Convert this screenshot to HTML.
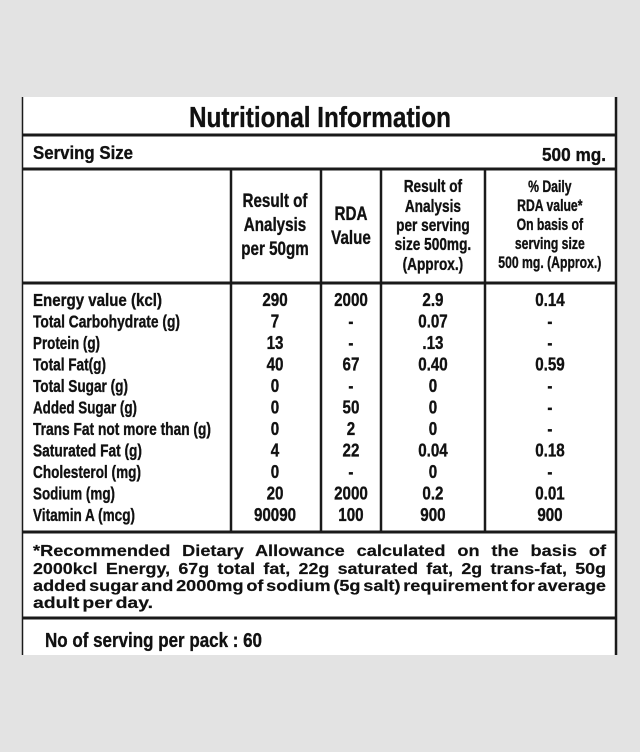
<!DOCTYPE html>
<html><head><meta charset="utf-8"><style>
html,body{margin:0;padding:0;background:#e3e3e3;}
svg{display:block;font-family:"Liberation Sans",Arial,sans-serif;font-weight:bold;fill:#111;}
</style></head><body>
<svg width="640" height="752" viewBox="0 0 640 752" xmlns="http://www.w3.org/2000/svg">
<rect x="0" y="0" width="640" height="752" fill="#e3e3e3"/>
<rect x="22" y="97" width="595" height="558" fill="#fff"/>
<g stroke="#1a1a1a" fill="none">
<line x1="22.5" y1="97" x2="22.5" y2="655" stroke-width="1.5"/>
<line x1="616" y1="97" x2="616" y2="655" stroke-width="2.5"/>
<line x1="22" y1="135" x2="617" y2="135" stroke-width="3"/>
<line x1="22" y1="169" x2="617" y2="169" stroke-width="3"/>
<line x1="22" y1="283" x2="617" y2="283" stroke-width="3"/>
<line x1="22" y1="532" x2="617" y2="532" stroke-width="3"/>
<line x1="22" y1="618" x2="617" y2="618" stroke-width="3"/>
<line x1="231" y1="169" x2="231" y2="532" stroke-width="2.5"/>
<line x1="321" y1="169" x2="321" y2="532" stroke-width="2.5"/>
<line x1="381" y1="169" x2="381" y2="532" stroke-width="2.5"/>
<line x1="485" y1="169" x2="485" y2="532" stroke-width="2.5"/>
</g>
<g stroke="#111" stroke-width="0.35">
<text x="320" y="127" font-size="29" text-anchor="middle" textLength="262" lengthAdjust="spacingAndGlyphs">Nutritional Information</text>
<text x="33" y="159" font-size="18" textLength="100" lengthAdjust="spacingAndGlyphs">Serving Size</text>
<text x="606" y="161" font-size="18" text-anchor="end" textLength="64" lengthAdjust="spacingAndGlyphs">500 mg.</text>
<g transform="scale(0.8,1)" font-size="19" text-anchor="middle">
<text x="343.75" y="207">Result of</text>
<text x="343.75" y="231">Analysis</text>
<text x="343.75" y="255">per 50gm</text>
<text x="438.75" y="220">RDA</text>
<text x="438.75" y="244">Value</text>
</g>
<g transform="scale(0.78,1)" font-size="17.5" text-anchor="middle">
<text x="555" y="192">Result of</text>
<text x="555" y="212">Analysis</text>
<text x="555" y="231">per serving</text>
<text x="555" y="250">size 500mg.</text>
<text x="555" y="270">(Approx.)</text>
</g>
<g transform="scale(0.74,1)" font-size="16.5" text-anchor="middle">
<text x="743" y="192">% Daily</text>
<text x="743" y="211">RDA value*</text>
<text x="743" y="230">On basis of</text>
<text x="743" y="249">serving size</text>
<text x="743" y="268">500 mg. (Approx.)</text>
</g>
<g font-size="17.5" lengthAdjust="spacingAndGlyphs">
<text x="33" y="306" textLength="129" lengthAdjust="spacingAndGlyphs">Energy value (kcl)</text>
<text x="33" y="327.5" textLength="147" lengthAdjust="spacingAndGlyphs">Total Carbohydrate (g)</text>
<text x="33" y="349" textLength="67" lengthAdjust="spacingAndGlyphs">Protein (g)</text>
<text x="33" y="370.5" textLength="73" lengthAdjust="spacingAndGlyphs">Total Fat(g)</text>
<text x="33" y="392" textLength="95" lengthAdjust="spacingAndGlyphs">Total Sugar (g)</text>
<text x="33" y="413.5" textLength="104" lengthAdjust="spacingAndGlyphs">Added Sugar (g)</text>
<text x="33" y="435" textLength="178" lengthAdjust="spacingAndGlyphs">Trans Fat not more than (g)</text>
<text x="33" y="456.5" textLength="109" lengthAdjust="spacingAndGlyphs">Saturated Fat (g)</text>
<text x="33" y="478" textLength="108" lengthAdjust="spacingAndGlyphs">Cholesterol (mg)</text>
<text x="33" y="499.5" textLength="82" lengthAdjust="spacingAndGlyphs">Sodium (mg)</text>
<text x="33" y="521" textLength="102" lengthAdjust="spacingAndGlyphs">Vitamin A (mcg)</text>
</g>
<g transform="scale(0.82,1)" text-anchor="middle" font-size="18.5">
<text x="335.4" y="306">290</text><text x="428" y="306">2000</text><text x="528" y="306">2.9</text><text x="670.7" y="306">0.14</text>
<text x="335.4" y="327.5">7</text><text x="428" y="327.5">-</text><text x="528" y="327.5">0.07</text><text x="670.7" y="327.5">-</text>
<text x="335.4" y="349">13</text><text x="428" y="349">-</text><text x="528" y="349">.13</text><text x="670.7" y="349">-</text>
<text x="335.4" y="370.5">40</text><text x="428" y="370.5">67</text><text x="528" y="370.5">0.40</text><text x="670.7" y="370.5">0.59</text>
<text x="335.4" y="392">0</text><text x="428" y="392">-</text><text x="528" y="392">0</text><text x="670.7" y="392">-</text>
<text x="335.4" y="413.5">0</text><text x="428" y="413.5">50</text><text x="528" y="413.5">0</text><text x="670.7" y="413.5">-</text>
<text x="335.4" y="435">0</text><text x="428" y="435">2</text><text x="528" y="435">0</text><text x="670.7" y="435">-</text>
<text x="335.4" y="456.5">4</text><text x="428" y="456.5">22</text><text x="528" y="456.5">0.04</text><text x="670.7" y="456.5">0.18</text>
<text x="335.4" y="478">0</text><text x="428" y="478">-</text><text x="528" y="478">0</text><text x="670.7" y="478">-</text>
<text x="335.4" y="499.5">20</text><text x="428" y="499.5">2000</text><text x="528" y="499.5">0.2</text><text x="670.7" y="499.5">0.01</text>
<text x="335.4" y="521">90090</text><text x="428" y="521">100</text><text x="528" y="521">900</text><text x="670.7" y="521">900</text>
</g>
<g font-size="16" stroke-width="0.2">
<text x="33" y="556" textLength="573" lengthAdjust="spacingAndGlyphs" word-spacing="6">*Recommended Dietary Allowance calculated on the basis of</text>
<text x="33" y="574" textLength="573" lengthAdjust="spacingAndGlyphs" word-spacing="3">2000kcl Energy, 67g total fat, 22g saturated fat, 2g trans-fat, 50g</text>
<text x="33" y="591" textLength="573" lengthAdjust="spacingAndGlyphs" word-spacing="-2">added sugar and 2000mg of sodium (5g salt) requirement for average</text>
<text x="33" y="608" textLength="120" lengthAdjust="spacingAndGlyphs" word-spacing="-2">adult per day.</text>
</g>
<text x="45" y="647" font-size="20" textLength="217" lengthAdjust="spacingAndGlyphs">No of serving per pack : 60</text>
</g>
</svg>
</body></html>
